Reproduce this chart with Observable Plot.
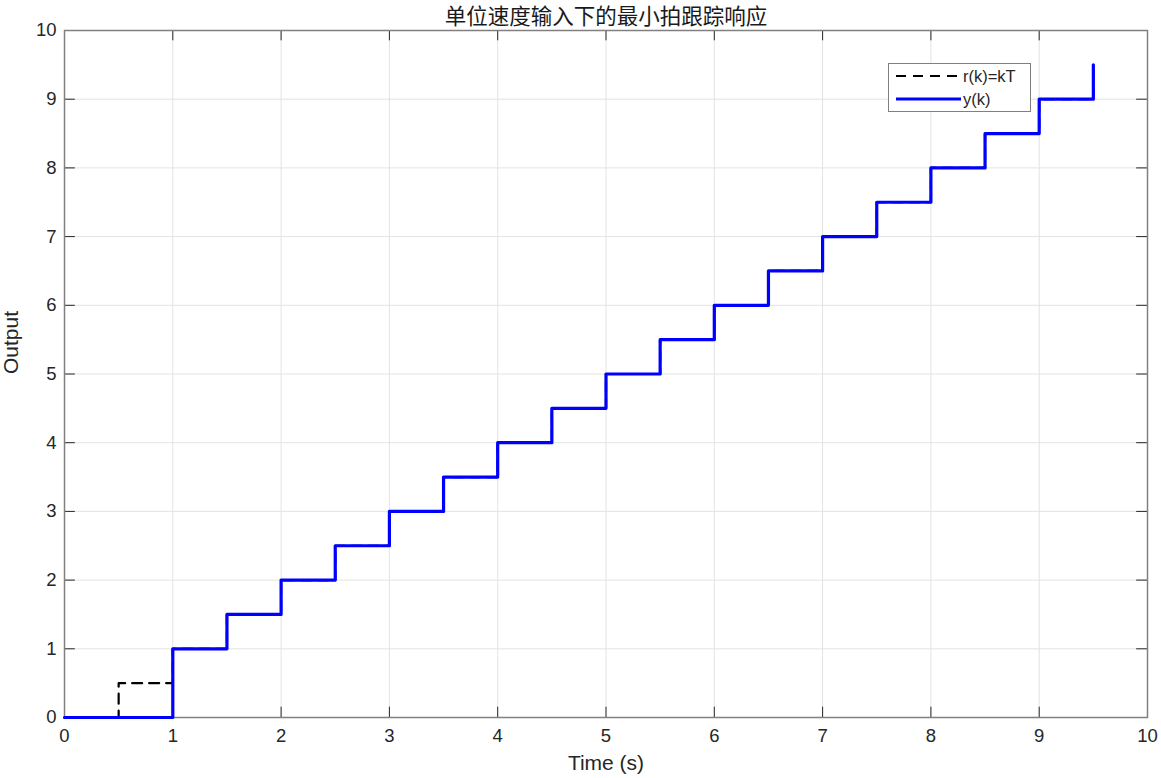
<!DOCTYPE html>
<html><head><meta charset="utf-8">
<script src="https://cdn.jsdelivr.net/npm/d3@7"></script>
<script src="https://cdn.jsdelivr.net/npm/@observablehq/plot@0.6"></script>
<style>
body{margin:0;background:#fff;font-family:"Liberation Sans",Arial,sans-serif;}
#wrap{position:relative;width:1161px;height:778px;}
#legend{position:absolute;left:888px;top:63px;width:143px;height:49px;border:1.5px solid #808080;background:#fff;box-sizing:border-box;}
</style></head><body>
<div id="wrap"><div id="chart"></div>
<div id="legend">
<svg width="143" height="49" style="position:absolute;left:0;top:0">
<line x1="7" y1="12" x2="72" y2="12" stroke="#000" stroke-width="2.2" stroke-dasharray="10,7"/>
<line x1="7" y1="35" x2="72" y2="35" stroke="#0000ff" stroke-width="3.2"/>
<text x="74" y="18" font-size="16.5" fill="#262626" font-family="Liberation Sans, Arial, sans-serif">r(k)=kT</text>
<text x="74" y="41" font-size="16.5" fill="#262626" font-family="Liberation Sans, Arial, sans-serif">y(k)</text>
</svg>
</div></div>
<script>
const timeK = [0,0.5,1,1.5,2,2.5,3,3.5,4,4.5,5,5.5,6,6.5,7,7.5,8,8.5,9,9.5];
const refR  = [0,0.5,1,1.5,2,2.5,3,3.5,4,4.5,5,5.5,6,6.5,7,7.5,8,8.5,9,9.5];
const outY  = [0,0,1,1.5,2,2.5,3,3.5,4,4.5,5,5.5,6,6.5,7,7.5,8,8.5,9,9.5];
const xTicks = [0,1,2,3,4,5,6,7,8,9,10];
const yTicks = [0,1,2,3,4,5,6,7,8,9,10];
const titleText = "单位速度输入下的最小拍跟踪响应";

const rData = timeK.map((t,i)=>({t, v: refR[i]}));
const yData = timeK.map((t,i)=>({t, v: outY[i]}));

const gridCol = "#e3e3e3", axCol = "#808080", txtCol = "#262626";
const plot = Plot.plot({
  width: 1161, height: 778,
  marginLeft: 64, marginRight: 14, marginTop: 30, marginBottom: 61,
  style: {fontFamily: "Liberation Sans, Arial, sans-serif", background: "#fff"},
  x: {domain: [0,10], ticks: xTicks},
  y: {domain: [0,10], ticks: yTicks},
  marks: [
    Plot.ruleX(xTicks, {stroke: gridCol, strokeWidth: 1}),
    Plot.ruleY(yTicks, {stroke: gridCol, strokeWidth: 1}),
    Plot.ruleX(xTicks, {y1: 0, y2: 0.15, stroke: txtCol, strokeWidth: 1}),
    Plot.ruleX(xTicks, {y1: 10, y2: 9.85, stroke: txtCol, strokeWidth: 1}),
    Plot.ruleY(yTicks, {x1: 0, x2: 0.1, stroke: txtCol, strokeWidth: 1}),
    Plot.ruleY(yTicks, {x1: 10, x2: 9.9, stroke: txtCol, strokeWidth: 1}),
    Plot.frame({stroke: axCol, strokeWidth: 1.5}),
    Plot.axisX(xTicks, {tickSize: 0, tickPadding: 11, fontSize: 18.5, color: txtCol, label: null, tickFormat: d3.format("d")}),
    Plot.axisY(yTicks, {tickSize: 0, tickPadding: 8, fontSize: 18.5, color: txtCol, label: null, tickFormat: d3.format("d")}),
    Plot.line(rData, {x: "t", y: "v", curve: "step-after", stroke: "#000", strokeWidth: 2.2, strokeDasharray: "10,7"}),
    Plot.line(yData, {x: "t", y: "v", curve: "step-after", stroke: "#0000ff", strokeWidth: 3.2}),
    Plot.text([titleText], {frameAnchor: "top", dy: -13, lineAnchor: "middle", fontSize: 21.5, fill: "#1a1a1a", fontFamily: "Noto Sans CJK SC", text: d => d}),
    Plot.text(["Time (s)"], {frameAnchor: "bottom", dy: 46, lineAnchor: "middle", fontSize: 21, fill: txtCol, text: d => d}),
    Plot.text(["Output"], {frameAnchor: "left", dx: -53, rotate: -90, fontSize: 21, fill: txtCol, text: d => d})
  ]
});
document.getElementById("chart").appendChild(plot);
</script>
</body></html>
